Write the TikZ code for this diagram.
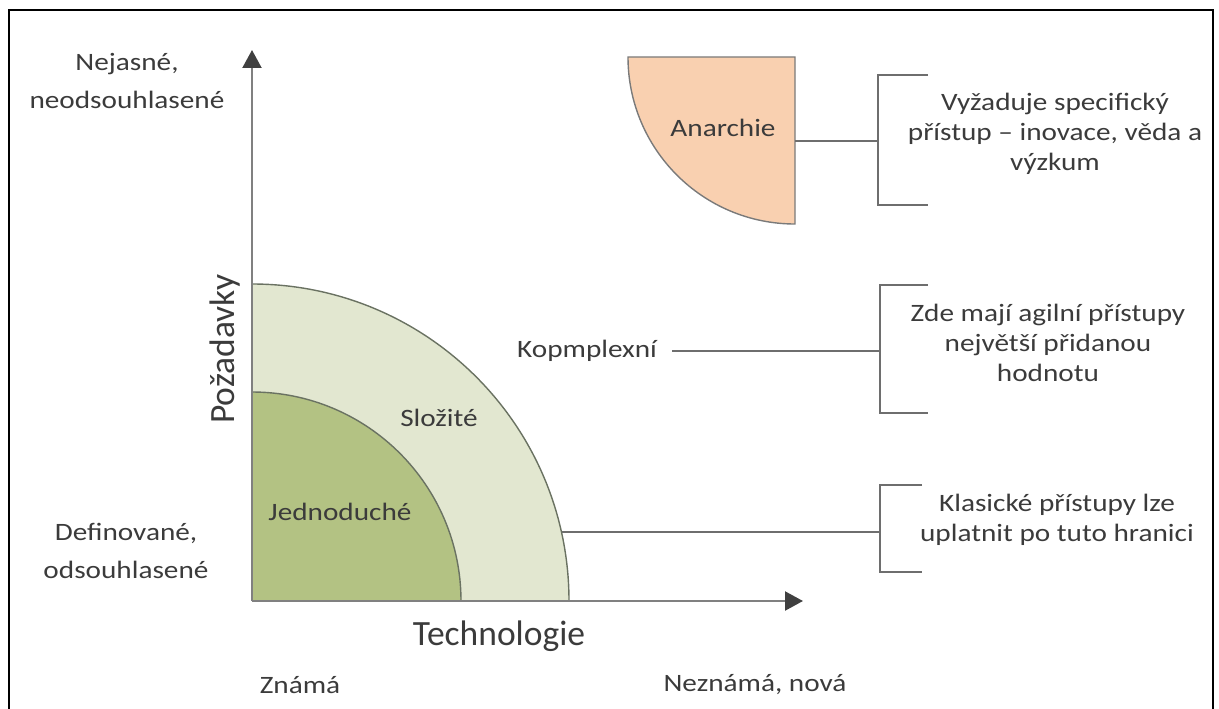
\documentclass[tikz,border=0pt]{standalone}
\usepackage{fontspec}
\setmainfont{Carlito}
\newfontfamily\labelfont[FakeStretch=1.17]{Carlito}
\usetikzlibrary{arrows.meta}

\definecolor{txtgray}{HTML}{3B3B3B}
\definecolor{axisgray}{HTML}{808080}
\definecolor{tipgray}{HTML}{404040}
\definecolor{arcgray}{HTML}{6A7262}
\definecolor{simplegreen}{HTML}{B3C283}
\definecolor{complexgreen}{HTML}{E2E7D0}
\definecolor{anarchypeach}{HTML}{F9D0B0}
\definecolor{edgegray}{HTML}{7A7A7A}
\definecolor{bracketgray}{HTML}{6E6E6E}

\begin{document}
\begin{tikzpicture}[x=1pt,y=-1pt,
  lbl/.style={font=\labelfont\fontsize{25}{30}\selectfont, text=txtgray, align=center, inner sep=0pt},
  sidelbl/.style={font=\labelfont\fontsize{25}{38}\selectfont, text=txtgray, align=center, inner sep=0pt},
  axislbl/.style={font=\fontsize{35.5}{40}\selectfont, text=txtgray, inner sep=0pt},
  axisline/.style={draw=axisgray, line width=2.2pt, -{Triangle[length=18pt,width=19pt,color=tipgray]}},
  zoneedge/.style={draw=arcgray, line width=1.4pt},
  bracketline/.style={draw=bracketgray, line width=1.5pt},
]
\useasboundingbox (0,0) rectangle (1219,709);

% outer frame, open at the bottom
\draw[black, line width=2.6pt] (9,715) -- (9,10) -- (1213,10) -- (1213,715);

% zones: complex ring and simple core
\fill[complexgreen] (252,601) -- (569,601) arc[start angle=0, end angle=-90, radius=317] -- cycle;
\draw[zoneedge] (569,601) arc[start angle=0, end angle=-90, radius=317];
\fill[simplegreen] (252,601) -- (461,601) arc[start angle=0, end angle=-90, radius=209] -- cycle;
\draw[zoneedge] (461,601) arc[start angle=0, end angle=-90, radius=209];

% anarchy quadrant
\filldraw[fill=anarchypeach, draw=edgegray, line width=1.4pt]
  (628,57) -- (795,57) -- (795,224) arc[start angle=90, end angle=180, radius=167] -- cycle;

% axes
\coordinate (origin) at (252,601);
\coordinate (ytip) at (252,50);
\coordinate (xtip) at (803,601);
\draw[axisline] (origin) -- (ytip);
\draw[axisline] (origin) -- (xtip);

% zone labels
\node[lbl] (anarchie) at (723,128) {Anarchie};
\node[lbl] (slozite) at (439,418) {Složité};
\node[lbl] (jednoduche) at (340,512) {Jednoduché};
\node[lbl, anchor=west] (komplex) at (517,351) {Kopmplexní};

% axis labels
\node[axislbl, rotate=90] (pozadavky) at (225,349) {Požadavky};
\node[axislbl] (technologie) at (499,636) {Technologie};
\node[sidelbl] (nejasne) at (127,81) {Nejasné,\\neodsouhlasené};
\node[sidelbl] (definovane) at (126,551) {Definované,\\odsouhlasené};
\node[lbl] (znama) at (300,685) {Známá};
\node[lbl] (neznama) at (755,685) {Neznámá, nová};

% brackets with their notes
\coordinate (b1t) at (928,75);  \coordinate (b1tl) at (878,75);
\coordinate (b1bl) at (878,205); \coordinate (b1b) at (928,205);
\coordinate (b1m) at (878,141); \coordinate (anarchieR) at (795,141);
\draw[bracketline] (b1t) -- (b1tl) -- (b1bl) -- (b1b);
\draw[bracketline] (anarchieR) -- (b1m);
\node[lbl] (note1) at (1055,134) {Vyžaduje specifický\\přístup – inovace, věda a\\výzkum};

\coordinate (b2t) at (928,285);  \coordinate (b2tl) at (880,285);
\coordinate (b2bl) at (880,413); \coordinate (b2b) at (928,413);
\coordinate (b2m) at (880,351);
\draw[bracketline] (b2t) -- (b2tl) -- (b2bl) -- (b2b);
\draw[bracketline] ([xshift=15pt]komplex.east) -- (b2m);
\node[lbl] (note2) at (1048,343) {Zde mají agilní přístupy\\největší přidanou\\hodnotu};

\coordinate (b3t) at (922,485);  \coordinate (b3tl) at (880,485);
\coordinate (b3bl) at (880,572); \coordinate (b3b) at (922,572);
\coordinate (b3m) at (880,532); \coordinate (edge) at (562,532);
\draw[bracketline] (b3t) -- (b3tl) -- (b3bl) -- (b3b);
\draw[bracketline] (edge) -- (b3m);
\node[lbl] (note3) at (1057,520) {Klasické přístupy lze\\uplatnit po tuto hranici};
\end{tikzpicture}
\end{document}
